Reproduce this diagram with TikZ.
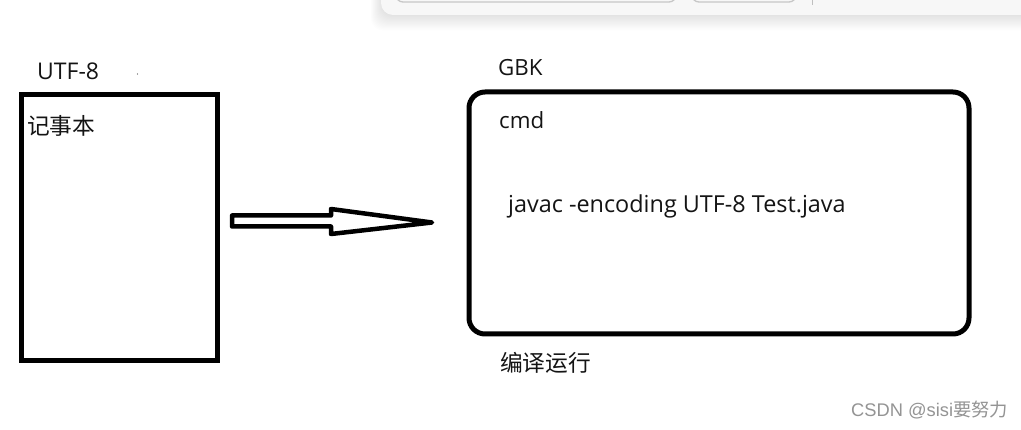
\documentclass[tikz,border=0pt]{standalone}
\usepackage{fontspec}
\setmainfont{Open Sans}
\newfontfamily\cjkfont{Noto Sans CJK SC}
\newfontfamily\wmfont{Liberation Sans}
\tikzset{
  box/.style={draw=black, line width=5pt, inner sep=0pt, outer sep=0pt},
  lbl/.style={anchor=base west, inner sep=0pt, font=\fontsize{22.3}{26}\selectfont, text=black!92},
  cjk/.style={anchor=base west, inner sep=0pt, font=\fontsize{22.7}{26}\selectfont\cjkfont, text=black!92},
  uibar/.style={fill=black!3, draw=none},
  uibtn/.style={draw=black!22, line width=1.3pt, fill=black!3},
}
\begin{document}
\begin{tikzpicture}[x=1pt, y=-1pt]
\useasboundingbox (0,0) rectangle (1021,430);
\fill[white] (0,0) rectangle (1021,430);
% top UI panel with soft shadow
\begin{scope}
\clip (0,0) rectangle (1021,430);
\foreach \i in {1,...,14}{
  \fill[black, opacity=0.009, rounded corners=12pt] (382-\i*0.8,-30) rectangle (1060,15+\i*1.1);
}
\fill[uibar, rounded corners=12pt] (381,-30) rectangle (1060,15);
\draw[uibtn, rounded corners=7pt] (396,-25) rectangle (676,2);
\draw[uibtn, rounded corners=7pt] (692,-25) rectangle (796,2);
\draw[black!25, line width=1pt] (812.5,-1) -- (812.5,5);
\end{scope}
% left box
\node[box, minimum width=196pt, minimum height=266pt] (notepad) at (119.5,227.5) {};
\node[lbl, font=\fontsize{23}{26}\selectfont] (utf) at (37,79.5) {UTF-8};
\node[fill=black!70, circle, inner sep=0pt, minimum size=1.3pt] (dot) at (137.5,74) {};
\node[cjk] (jsb) at (27,135) {记事本};
% right rounded box
\node[box, rounded corners=16pt, minimum width=500pt, minimum height=242pt] (cmdbox) at (719,213) {};
\node[lbl] (gbk) at (498,75.5) {GBK};
\node[lbl] (cmd) at (499,128.5) {cmd};
\node[lbl, font=\fontsize{23.4}{27}\selectfont] (javac) at (508,212.3) {javac -encoding UTF-8 Test.java};
\node[cjk] (run) at (500,371.5) {编译运行};
% block arrow
\coordinate (a0) at (232,221);
\draw[line width=4.5pt, line join=round, fill=white]
  (a0) ++(0,-5.5) -- (331,215.5) -- (331,209) -- (432,222.5) -- (331,234)
  -- (331,226.5) -- (232,226.5) -- cycle;
% watermark
\node[anchor=base west, inner sep=0pt, font=\fontsize{18.3}{21}\selectfont\wmfont, text=black!42] (wm) at (851,416.5) {CSDN @sisi{\cjkfont 要努力}};
\end{tikzpicture}
\end{document}
